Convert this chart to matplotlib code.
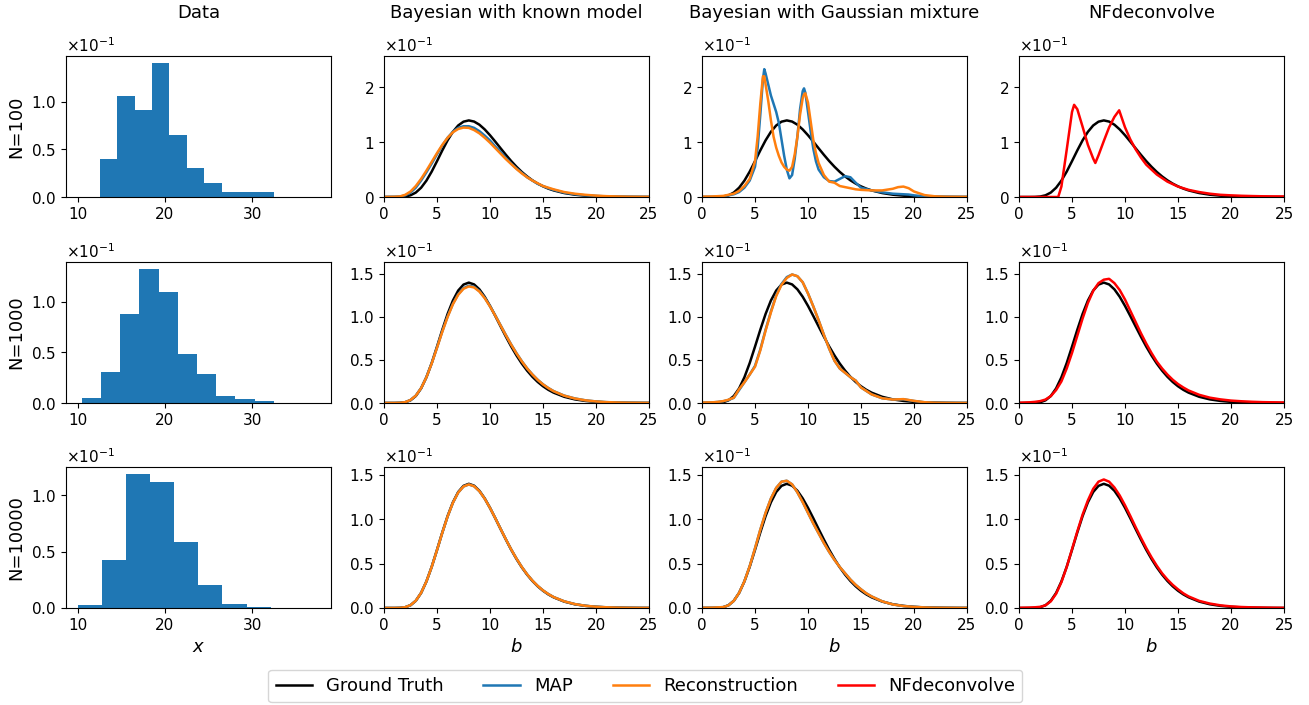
import numpy as np
import matplotlib
matplotlib.use("Agg")
import matplotlib.pyplot as plt
from matplotlib.lines import Line2D

# ---------------- data ----------------
col_titles = ["Data", "Bayesian with known model", "Bayesian with Gaussian mixture", "NFdeconvolve"]
row_labels = ["N=100", "N=1000", "N=10000"]
legend_labels = ["Ground Truth", "MAP", "Reconstruction", "NFdeconvolve"]

# histograms of observed x (bin edges, density heights in units of 1e-1)
hist_edges_100 = [12.56, 14.55, 16.54, 18.52, 20.51, 22.50, 24.49, 26.48, 28.46, 30.45, 32.44]
hist_h_100 = [0.40, 1.06, 0.91, 1.41, 0.65, 0.30, 0.15, 0.05, 0.05, 0.05]
hist_edges_1000 = [10.50, 12.69, 14.89, 17.08, 19.28, 21.47, 23.66, 25.86, 28.05, 30.25, 32.44]
hist_h_1000 = [0.053, 0.31, 0.878, 1.326, 1.092, 0.48, 0.286, 0.069, 0.039, 0.016]
hist_edges_10000 = [10.0, 12.76, 15.52, 18.28, 21.05, 23.81, 26.57, 29.33, 32.09]
hist_h_10000 = [0.03, 0.424, 1.193, 1.119, 0.588, 0.202, 0.039, 0.012]

# common grid of b for smooth curves
b_grid = [0, 1, 1.5, 2, 2.5, 3, 3.5, 4, 4.5, 5, 5.5, 6, 6.5, 7, 7.5, 8, 8.5, 9, 9.5, 10,
          10.5, 11, 11.5, 12, 12.5, 13, 13.5, 14, 14.5, 15, 15.5, 16, 17, 18, 19, 20, 21, 22, 23, 24, 25]

# all densities below in units of 1e-1
ground_truth = [0, 0.0001, 0.0014, 0.0086, 0.031, 0.081, 0.169, 0.298, 0.463, 0.653, 0.849, 1.033, 1.188,
                1.304, 1.373, 1.396, 1.375, 1.318, 1.232, 1.126, 1.009, 0.888, 0.769, 0.655, 0.551, 0.457,
                0.375, 0.304, 0.244, 0.194, 0.153, 0.120, 0.072, 0.042, 0.024, 0.013, 0.007, 0.004, 0.002,
                0.001, 0.0005]

# N=100, known model
known_map_100 = [0, 0.002, 0.007, 0.03, 0.08, 0.17, 0.30, 0.45, 0.61, 0.78, 0.94, 1.08, 1.19, 1.26, 1.29,
                 1.29, 1.26, 1.20, 1.12, 1.03, 0.92, 0.82, 0.71, 0.61, 0.52, 0.44, 0.36, 0.30, 0.24, 0.20,
                 0.16, 0.13, 0.08, 0.05, 0.03, 0.02, 0.01, 0.006, 0.003, 0.002, 0.001]
known_rec_100 = [0, 0.003, 0.01, 0.04, 0.10, 0.20, 0.33, 0.48, 0.64, 0.80, 0.95, 1.08, 1.18, 1.24, 1.265,
                 1.26, 1.22, 1.16, 1.08, 0.99, 0.89, 0.79, 0.69, 0.60, 0.51, 0.43, 0.36, 0.30, 0.25, 0.20,
                 0.17, 0.14, 0.09, 0.06, 0.04, 0.025, 0.015, 0.01, 0.005, 0.003, 0.002]

# N=100, Gaussian mixture (finer grid)
b_gmm_100 = [0, 1, 2, 3, 3.5, 4, 4.5, 5, 5.25, 5.5, 5.75, 5.875, 6, 6.25, 6.5, 6.75, 7, 7.25, 7.5, 7.75,
             8, 8.25, 8.5, 8.75, 9, 9.25, 9.5, 9.625, 9.75, 10, 10.25, 10.5, 10.75, 11, 11.5, 12, 12.5,
             13, 13.5, 14, 14.5, 15, 16, 17, 18, 18.5, 19, 19.5, 20, 21, 22, 23, 25]
gmm_map_100 = [0.0, 0.0, 0.01, 0.05, 0.09, 0.17, 0.30, 0.55, 0.90, 1.50, 2.15, 2.33, 2.25, 2.05, 1.85,
               1.70, 1.55, 1.35, 1.05, 0.75, 0.50, 0.34, 0.40, 0.70, 1.10, 1.60, 1.93, 1.98, 1.90, 1.55,
               1.20, 0.88, 0.65, 0.50, 0.36, 0.29, 0.28, 0.33, 0.38, 0.36, 0.26, 0.17, 0.12, 0.085, 0.06,
               0.055, 0.05, 0.045, 0.03, 0.012, 0.005, 0.002, 0.0]
gmm_rec_100 = [0.005, 0.01, 0.02, 0.06, 0.11, 0.20, 0.33, 0.65, 1.10, 1.70, 2.20, 2.20, 2.05, 1.75, 1.40,
               1.10, 0.90, 0.75, 0.63, 0.55, 0.50, 0.48, 0.55, 0.78, 1.10, 1.50, 1.80, 1.87, 1.89, 1.72,
               1.38, 1.04, 0.80, 0.62, 0.40, 0.28, 0.26, 0.20, 0.18, 0.16, 0.14, 0.13, 0.12, 0.12, 0.15,
               0.18, 0.19, 0.16, 0.10, 0.035, 0.012, 0.004, 0.001]

# N=100, NFdeconvolve (finer grid)
b_nf_100 = [0, 3, 3.7, 4, 4.5, 5, 5.2, 5.5, 6, 6.5, 7, 7.2, 7.5, 8, 8.5, 9, 9.45, 10, 10.5, 11, 11.5, 12,
            13, 14, 15, 16, 17, 18, 19, 20, 21, 22, 23, 24, 25]
nf_100 = [0, 0, 0.0, 0.19, 0.86, 1.55, 1.68, 1.60, 1.28, 0.95, 0.70, 0.62, 0.76, 1.02, 1.27, 1.46, 1.58,
          1.27, 1.05, 0.87, 0.72, 0.59, 0.41, 0.28, 0.19, 0.13, 0.09, 0.06, 0.04, 0.03, 0.022, 0.017,
          0.013, 0.011, 0.01]

# N=1000
known_map_1000 = [0, 0.0002, 0.002, 0.01, 0.035, 0.086, 0.173, 0.300, 0.461, 0.644, 0.831, 1.004, 1.151,
                  1.261, 1.331, 1.360, 1.347, 1.298, 1.221, 1.124, 1.015, 0.901, 0.788, 0.678, 0.577,
                  0.485, 0.402, 0.331, 0.269, 0.217, 0.174, 0.138, 0.086, 0.053, 0.031, 0.018, 0.010,
                  0.006, 0.003, 0.002, 0.001]
known_rec_1000 = [0, 0.0002, 0.002, 0.01, 0.035, 0.085, 0.172, 0.298, 0.458, 0.640, 0.826, 0.998, 1.145,
                  1.255, 1.325, 1.352, 1.340, 1.292, 1.216, 1.120, 1.012, 0.898, 0.785, 0.676, 0.575,
                  0.483, 0.401, 0.330, 0.268, 0.216, 0.173, 0.137, 0.085, 0.052, 0.031, 0.018, 0.010,
                  0.006, 0.003, 0.002, 0.001]
gmm_map_1000 = [0.004, 0.007, 0.012, 0.02, 0.035, 0.06, 0.15, 0.24, 0.33, 0.43, 0.62, 0.85, 1.06, 1.25,
                1.38, 1.46, 1.49, 1.47, 1.40, 1.27, 1.12, 0.96, 0.79, 0.63, 0.49, 0.40, 0.35, 0.30, 0.26,
                0.18, 0.14, 0.10, 0.055, 0.04, 0.043, 0.023, 0.008, 0.003, 0.001, 0.0, 0.0]
gmm_rec_1000 = [0.005, 0.008, 0.013, 0.022, 0.038, 0.062, 0.16, 0.24, 0.33, 0.42, 0.61, 0.84, 1.05, 1.24,
                1.37, 1.45, 1.49, 1.47, 1.40, 1.27, 1.12, 0.96, 0.79, 0.63, 0.49, 0.40, 0.35, 0.30, 0.26,
                0.18, 0.14, 0.10, 0.055, 0.04, 0.045, 0.025, 0.009, 0.003, 0.001, 0.0, 0.0]
nf_1000 = [0.003, 0.008, 0.013, 0.022, 0.04, 0.08, 0.15, 0.25, 0.40, 0.58, 0.78, 0.98, 1.16, 1.30, 1.39,
           1.43, 1.44, 1.39, 1.31, 1.20, 1.07, 0.94, 0.81, 0.69, 0.58, 0.48, 0.40, 0.33, 0.27, 0.22, 0.18,
           0.145, 0.095, 0.062, 0.042, 0.028, 0.02, 0.014, 0.01, 0.008, 0.006]

# N=10000
known_map_10000 = [0, 0.0001, 0.0015, 0.009, 0.032, 0.082, 0.170, 0.298, 0.462, 0.651, 0.846, 1.029,
                   1.183, 1.298, 1.366, 1.389, 1.369, 1.313, 1.229, 1.125, 1.009, 0.889, 0.771, 0.658,
                   0.555, 0.461, 0.379, 0.308, 0.248, 0.198, 0.157, 0.123, 0.075, 0.044, 0.025, 0.014,
                   0.008, 0.004, 0.002, 0.001, 0.0005]
known_rec_10000 = [0, 0.0001, 0.0015, 0.009, 0.032, 0.082, 0.170, 0.298, 0.462, 0.651, 0.846, 1.029,
                   1.183, 1.298, 1.366, 1.389, 1.369, 1.313, 1.229, 1.125, 1.009, 0.889, 0.771, 0.658,
                   0.555, 0.461, 0.379, 0.308, 0.248, 0.198, 0.157, 0.123, 0.075, 0.044, 0.025, 0.014,
                   0.008, 0.004, 0.002, 0.001, 0.0005]
gmm_map_10000 = [0.002, 0.004, 0.007, 0.01, 0.03, 0.08, 0.17, 0.30, 0.47, 0.67, 0.88, 1.07, 1.23, 1.35,
                 1.42, 1.43, 1.39, 1.30, 1.19, 1.07, 0.95, 0.84, 0.73, 0.63, 0.54, 0.46, 0.39, 0.32, 0.26,
                 0.21, 0.165, 0.13, 0.075, 0.04, 0.022, 0.012, 0.006, 0.003, 0.002, 0.001, 0.0005]
gmm_rec_10000 = [0.002, 0.004, 0.007, 0.01, 0.03, 0.08, 0.17, 0.30, 0.47, 0.67, 0.88, 1.07, 1.23, 1.35,
                 1.42, 1.43, 1.39, 1.30, 1.19, 1.07, 0.95, 0.84, 0.73, 0.63, 0.54, 0.46, 0.39, 0.32, 0.26,
                 0.21, 0.165, 0.13, 0.075, 0.04, 0.022, 0.012, 0.006, 0.003, 0.002, 0.001, 0.0005]
nf_10000 = [0.002, 0.005, 0.008, 0.013, 0.03, 0.075, 0.16, 0.29, 0.46, 0.66, 0.86, 1.05, 1.21, 1.34, 1.42,
            1.445, 1.42, 1.355, 1.265, 1.155, 1.035, 0.91, 0.79, 0.675, 0.57, 0.475, 0.39, 0.32, 0.26,
            0.21, 0.165, 0.13, 0.08, 0.05, 0.03, 0.018, 0.011, 0.007, 0.005, 0.003, 0.002]

# ---------------- plotting ----------------
UNIT = 1e-1
C_GT, C_MAP, C_REC, C_NF = "black", "#1f77b4", "#ff7f0e", "red"
LW = 1.8
TICK_FS = 11
LABEL_FS = 13

plt.rcParams["font.family"] = ["DejaVu Sans"]
fig = plt.figure(figsize=(13.09, 7.05), dpi=100)

lefts = [66, 384, 702, 1019]
tops = [56, 262, 467]
W, H = 265, 141
FW, FH = 1309, 705
axes = [[fig.add_axes([l / FW, 1 - (t + H) / FH, W / FW, H / FH]) for l in lefts] for t in tops]

hists = [(hist_edges_100, hist_h_100), (hist_edges_1000, hist_h_1000), (hist_edges_10000, hist_h_10000)]
known = [(known_map_100, known_rec_100), (known_map_1000, known_rec_1000), (known_map_10000, known_rec_10000)]
gmm = [(b_gmm_100, gmm_map_100, gmm_rec_100), (b_grid, gmm_map_1000, gmm_rec_1000),
       (b_grid, gmm_map_10000, gmm_rec_10000)]
nfs = [(b_nf_100, nf_100), (b_grid, nf_1000), (b_grid, nf_10000)]
row_ymax = [0.257, 0.1635, 0.1585]

gt = np.array(ground_truth) * UNIT
for r in range(3):
    ax = axes[r][0]
    edges, h = hists[r]
    ax.hist(edges[:-1], bins=edges, weights=np.array(h) * UNIT, color=C_MAP)
    ax.set_xlim(8.67, 39.0)
    ax.set_xticks([10, 20, 30])
    ax.set_yticks([0, 0.05, 0.10])
    ax.set_ylabel(row_labels[r], fontsize=LABEL_FS)

    ax = axes[r][1]
    ax.plot(b_grid, gt, color=C_GT, lw=LW)
    ax.plot(b_grid, np.array(known[r][0]) * UNIT, color=C_MAP, lw=LW)
    ax.plot(b_grid, np.array(known[r][1]) * UNIT, color=C_REC, lw=LW)

    ax = axes[r][2]
    ax.plot(b_grid, gt, color=C_GT, lw=LW)
    ax.plot(gmm[r][0], np.array(gmm[r][1]) * UNIT, color=C_MAP, lw=LW)
    ax.plot(gmm[r][0], np.array(gmm[r][2]) * UNIT, color=C_REC, lw=LW)

    ax = axes[r][3]
    ax.plot(b_grid, gt, color=C_GT, lw=LW)
    ax.plot(nfs[r][0], np.array(nfs[r][1]) * UNIT, color=C_NF, lw=LW)

    for c in range(1, 4):
        a = axes[r][c]
        a.set_xlim(0, 25)
        a.set_ylim(0, row_ymax[r])
        a.set_xticks([0, 5, 10, 15, 20, 25])
        if r == 0:
            a.set_yticks([0, 0.1, 0.2])
        else:
            a.set_yticks([0, 0.05, 0.10, 0.15])

    for c in range(4):
        a = axes[r][c]
        a.ticklabel_format(style="sci", axis="y", scilimits=(0, 0), useMathText=True)
        a.tick_params(labelsize=TICK_FS)
        a.yaxis.get_offset_text().set_fontsize(TICK_FS)

for c in range(4):
    axes[0][c].set_title(col_titles[c], fontsize=LABEL_FS, pad=27)

axes[2][0].set_xlabel("$x$", fontsize=LABEL_FS)
for c in range(1, 4):
    axes[2][c].set_xlabel("$b$", fontsize=LABEL_FS)

handles = [Line2D([], [], color=C_GT, lw=LW), Line2D([], [], color=C_MAP, lw=LW),
           Line2D([], [], color=C_REC, lw=LW), Line2D([], [], color=C_NF, lw=LW)]
fig.legend(handles, legend_labels, loc="lower center", ncol=4, fontsize=LABEL_FS,
           bbox_to_anchor=(0.493, -0.009), columnspacing=2.2, handlelength=2.0)

fig.savefig("out.png", dpi=100)
